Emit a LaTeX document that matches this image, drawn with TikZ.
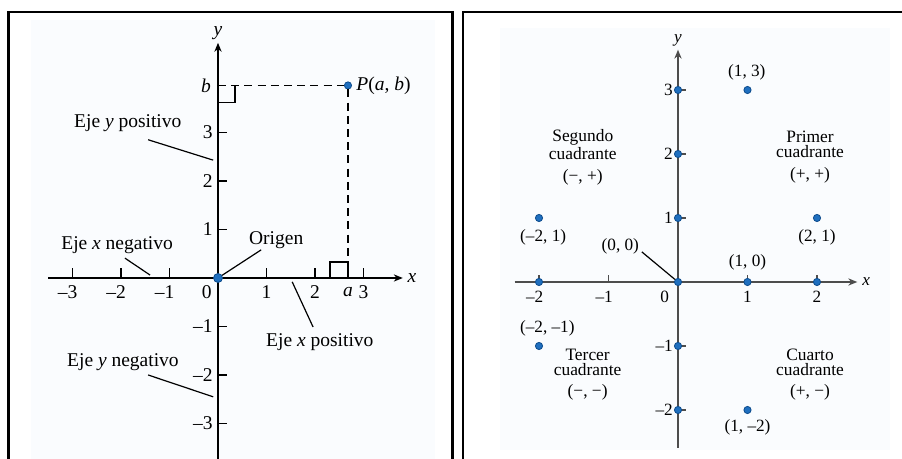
\documentclass[tikz,border=0pt]{standalone}
\usepackage{fontspec}
\setmainfont{Liberation Serif}
\usepackage{xcolor}
\definecolor{ptblue}{HTML}{1F6FBF}
\definecolor{ptedge}{HTML}{0E4C8C}
\definecolor{axgray}{HTML}{4D4D4D}
\definecolor{bgpale}{HTML}{FAFCFE}
\usetikzlibrary{arrows.meta,positioning,calc}

\begin{document}
\begin{tikzpicture}[x=0.5pt,y=0.5pt,
  frame/.style={line width=1.25pt},
  ax/.style={-{Stealth[length=4.5pt,width=3.6pt]},line width=0.75pt},
  tk/.style={line width=0.7pt},
  lead/.style={line width=0.6pt},
  dash8/.style={line width=0.7pt,dash pattern=on 4pt off 2.6pt},
  pt/.style={circle,fill=ptblue,draw=ptedge,line width=0.4pt,inner sep=0pt,
    minimum size=3.6pt},
  lab/.style={font=\fontsize{9.75}{11}\selectfont,inner sep=1pt},
  plab/.style={font=\fontsize{8.6}{9}\selectfont,inner sep=1pt},
  qlab/.style={font=\fontsize{8.7}{7.4}\selectfont,align=center,inner sep=1pt}]
\useasboundingbox (0,0) rectangle (902,459);
% pale backgrounds and the two frames
\fill[bgpale] (31,0) rectangle (435,439);
\fill[bgpale] (500,9) rectangle (890,431);
\draw[frame] (8.5,0) -- (8.5,447) -- (452.5,447) -- (452.5,0);
\draw[frame] (463,0) -- (463,447) -- (903,447);
% left: the axes, ticks and P(a,b)
\begin{scope}[shift={(218,181)},x=24.25pt,y=24.25pt]
  \coordinate (xl) at (-3.5,0);
  \coordinate (xr) at (3.81,0);
  \coordinate (yb) at (0,-3.8);
  \coordinate (yt) at (0,4.85);
  \draw[ax] (xl) -- (xr) node[right=1pt,lab] (xlab) {\textit{x}};
  \draw[ax] (yb) -- (yt) node[above=0pt,lab] (ylab) {\textit{y}};
  \foreach \k/\t in {-3/{\llap{–}3},-2/{\llap{–}2},-1/{\llap{–}1},1/1,2/2,3/3}{
    \draw[tk] (\k,0) -- (\k,0.2);
    \node[lab] (xt\k) at (\k,-0.29) {\t};
  }
  \foreach \k/\t in {-3/–3,-2/–2,-1/–1,1/1,2/2,3/3}{
    \draw[tk] (0,\k) -- (0.18,\k);
    \node[lab,anchor=east] (yt\k) at (-0.06,\k) {\t};
  }
  \node[lab] (x0) at (-0.23,-0.29) {0};
  % the point and its two dashed projections
  \node[pt] (P) at (2.68,3.97) {};
  \coordinate (Pb) at (0,3.97);
  \coordinate (Pa) at (2.68,0);
  \draw[dash8] (Pb) -- (P);
  \draw[dash8] (P) -- (Pa);
  \draw[tk] (0,3.62) -- (0.35,3.62) -- (0.35,3.97);
  \draw[tk] (2.31,0) -- (2.31,0.33) -- (2.68,0.33);
  \draw[tk] (2.68,0) -- (2.68,0.2);
  \node[lab,right=1pt of P] (Plab) {\textit{P}(\textit{a}, \textit{b})};
  \node[lab,anchor=east] (blab) at (-0.1,3.97) {\textit{b}};
  \node[lab] (alab) at (2.68,-0.29) {\textit{a}};
  \node[pt,minimum size=4.5pt] (o0) at (0,0) {};
  % names of the half axes
  \node[lab] (ypos) at (-1.86,3.20) {Eje \textit{y} positivo};
  \coordinate (ypos1) at (-1.44,2.85);
  \coordinate (ypos2) at (-0.10,2.43);
  \draw[lead] (ypos1) -- (ypos2);
  \node[lab] (xneg) at (-2.08,0.68) {Eje \textit{x} negativo};
  \coordinate (xneg1) at (-1.92,0.41);
  \coordinate (xneg2) at (-1.40,0.06);
  \draw[lead] (xneg1) -- (xneg2);
  \node[lab] (orig) at (1.20,0.78) {Origen};
  \coordinate (orig1) at (0.89,0.58);
  \draw[lead] (orig1) -- (o0);
  \node[lab] (xpos) at (2.10,-1.32) {Eje \textit{x} positivo};
  \coordinate (xpos1) at (1.53,-0.08);
  \coordinate (xpos2) at (1.96,-1.01);
  \draw[lead] (xpos1) -- (xpos2);
  \node[lab] (yneg) at (-1.96,-1.73) {Eje \textit{y} negativo};
  \coordinate (yneg1) at (-1.44,-2.0);
  \coordinate (yneg2) at (-0.10,-2.45);
  \draw[lead] (yneg1) -- (yneg2);
\end{scope}
% right: the four quadrants with sample points
\begin{scope}[shift={(678,177)},x=34.75pt,y=32pt]
  \coordinate (rxl) at (-2.35,0);
  \coordinate (rxr) at (2.58,0);
  \coordinate (ryb) at (0,-2.59);
  \coordinate (ryt) at (0,3.63);
  \draw[ax,axgray,line width=1pt] (rxl) -- (rxr) node[right=1pt,plab,black] (rxlab) {\textit{x}};
  \draw[ax,axgray,line width=1pt] (ryb) -- (ryt) node[above=0pt,plab,black] (rylab) {\textit{y}};
  \foreach \k/\t in {-2/{\llap{–}2},-1/{\llap{–}1},1/1,2/2}{
    \draw[tk,axgray] (\k,0) -- (\k,0.11);
    \node[plab] (rxt\k) at (\k,-0.23) {\t};
  }
  \foreach \k/\t in {-2/–2,-1/–1,1/1,2/2,3/3}{
    \draw[tk,axgray] (0,\k) -- (0.11,\k);
    \node[plab,anchor=east] (ryt\k) at (-0.04,\k) {\t};
    \node[pt] (ry\k) at (0,\k) {};
  }
  \node[plab] (rx0) at (-0.19,-0.23) {0};
  \foreach \k in {-2,1,2}
    \node[pt] (rx\k) at (\k,0) {};
  \node[pt] (r00) at (0,0) {};
  % sample points and their labels
  \node[pt] (p13) at (1,3) {};
  \node[pt] (pm21) at (-2,1) {};
  \node[pt] (p21) at (2,1) {};
  \node[pt] (pm2m1) at (-2,-1) {};
  \node[pt] (p1m2) at (1,-2) {};
  \node[plab] (l13) at (0.99,3.27) {(1, 3)};
  \node[plab] (lm21) at (-1.94,0.69) {(–2, 1)};
  \node[plab] (l21) at (2.0,0.69) {(2, 1)};
  \node[plab] (l10) at (1.0,0.30) {(1, 0)};
  \node[plab] (lm2m1) at (-1.88,-0.72) {(–2, –1)};
  \node[plab] (l1m2) at (1.0,-2.27) {(1, –2)};
  \node[plab] (l00) at (-0.83,0.56) {(0, 0)};
  \coordinate (l00a) at (-0.52,0.47);
  \draw[lead] (l00a) -- (r00);
  % quadrant names
  \node[qlab] (q2) at (-1.37,1.95) {Segundo\\cuadrante\\[3.5pt](−, +)};
  \node[qlab] (q1) at (1.90,1.95) {Primer\\cuadrante\\[3.5pt](+, +)};
  \node[qlab] (q3) at (-1.30,-1.45) {Tercer\\cuadrante\\[3.5pt](−, −)};
  \node[qlab] (q4) at (1.90,-1.45) {Cuarto\\cuadrante\\[3.5pt](+, −)};
\end{scope}
\end{tikzpicture}
\end{document}
